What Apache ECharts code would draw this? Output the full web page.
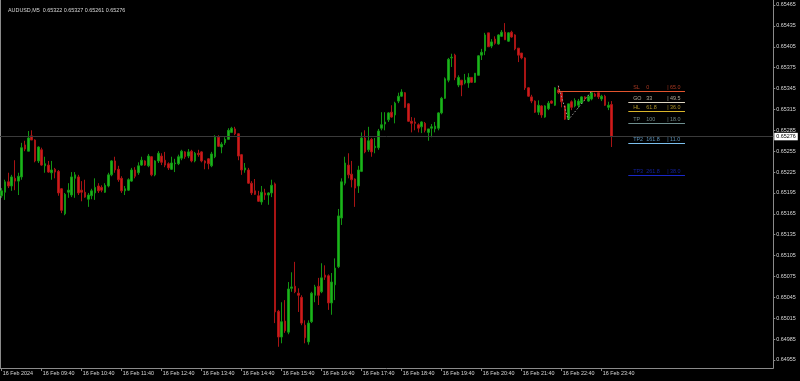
<!DOCTYPE html>
<html><head><meta charset="utf-8">
<script src="https://cdn.jsdelivr.net/npm/echarts@6/dist/echarts.min.js"></script>
<style>html,body{margin:0;padding:0;background:#000;}#c{width:800px;height:381px;}</style>
</head><body><div id="c"></div>
<script>
// ---- data (AUDUSD M5, 16 Feb 2024, first bar 08:40) ----
const symbol = 'AUDUSD', timeframe = 'M5';
const startTime = '08:40';
const opens = [0.65191,0.65196,0.65211,0.65205,0.65216,0.65212,0.65218,0.65264,0.65255,0.65277,
0.65271,0.65241,0.65257,0.65234,0.65235,0.65224,0.65229,0.65226,0.65201,0.65165,
0.65196,0.65192,0.65216,0.65218,0.65199,0.65196,0.65186,0.65191,0.65195,0.65205,
0.65203,0.65196,0.65205,0.65221,0.65241,0.65229,0.65216,0.65198,0.65199,0.65212,
0.65228,0.65224,0.65235,0.65241,0.65234,0.65247,0.65221,0.65241,0.65248,0.65242,
0.65237,0.65229,0.65237,0.65237,0.65245,0.65254,0.65248,0.65255,0.65241,0.65252,
0.65254,0.65241,0.65244,0.65234,0.65247,0.65275,0.65261,0.65267,0.65272,0.65282,
0.65287,0.65280,0.65250,0.65228,0.65228,0.65209,0.65198,0.65191,0.65182,0.65195,
0.65192,0.65195,0.65208,0.65025,0.64988,0.65011,0.64995,0.65058,0.65061,0.65051,
0.65045,0.65005,0.64981,0.65010,0.65048,0.65061,0.65053,0.65077,0.65076,0.65037,
0.65063,0.65089,0.65159,0.65209,0.65235,0.65222,0.65215,0.65205,0.65226,0.65274,
0.65257,0.65272,0.65260,0.65260,0.65288,0.65294,0.65300,0.65311,0.65307,0.65327,
0.65334,0.65339,0.65323,0.65298,0.65297,0.65293,0.65290,0.65295,0.65282,0.65288,
0.65287,0.65288,0.65310,0.65331,0.65357,0.65389,0.65393,0.65350,0.65357,0.65353,
0.65353,0.65361,0.65354,0.65364,0.65393,0.65399,0.65425,0.65406,0.65416,0.65409,
0.65420,0.65426,0.65413,0.65426,0.65422,0.65403,0.65396,0.65389,0.65346,0.65333,
0.65327,0.65311,0.65320,0.65304,0.65316,0.65327,0.65321,0.65343,0.65339,0.65320,
0.65301,0.65326,0.65320,0.65321,0.65324,0.65333,0.65327,0.65330,0.65337,0.65339,
0.65330,0.65334,0.65318,0.65322];
const closes = [0.65198,0.65211,0.65205,0.65218,0.65212,0.65219,0.65260,0.65258,0.65274,0.65271,
0.65241,0.65261,0.65235,0.65237,0.65225,0.65228,0.65225,0.65195,0.65170,0.65193,
0.65199,0.65218,0.65221,0.65195,0.65196,0.65189,0.65192,0.65198,0.65203,0.65198,
0.65199,0.65206,0.65221,0.65241,0.65228,0.65214,0.65198,0.65201,0.65214,0.65228,
0.65219,0.65234,0.65242,0.65235,0.65248,0.65221,0.65241,0.65252,0.65239,0.65235,
0.65231,0.65238,0.65238,0.65247,0.65255,0.65247,0.65254,0.65241,0.65252,0.65250,
0.65241,0.65238,0.65237,0.65251,0.65275,0.65262,0.65265,0.65272,0.65285,0.65288,
0.65280,0.65248,0.65228,0.65231,0.65209,0.65195,0.65193,0.65183,0.65196,0.65192,
0.65195,0.65206,0.65024,0.64988,0.65010,0.64997,0.65057,0.65060,0.65053,0.65048,
0.65008,0.64987,0.65008,0.65051,0.65060,0.65048,0.65073,0.65074,0.65037,0.65067,
0.65087,0.65162,0.65211,0.65238,0.65221,0.65214,0.65202,0.65228,0.65274,0.65254,
0.65270,0.65254,0.65262,0.65284,0.65293,0.65297,0.65310,0.65304,0.65324,0.65334,
0.65340,0.65318,0.65298,0.65295,0.65295,0.65288,0.65297,0.65285,0.65287,0.65290,
0.65291,0.65310,0.65331,0.65359,0.65387,0.65390,0.65361,0.65361,0.65350,0.65357,
0.65361,0.65354,0.65367,0.65392,0.65397,0.65422,0.65405,0.65412,0.65410,0.65422,
0.65426,0.65415,0.65425,0.65419,0.65402,0.65393,0.65389,0.65346,0.65334,0.65327,
0.65311,0.65321,0.65307,0.65320,0.65324,0.65324,0.65346,0.65339,0.65326,0.65301,
0.65323,0.65318,0.65328,0.65327,0.65333,0.65330,0.65334,0.65339,0.65334,0.65333,
0.65334,0.65321,0.65321,0.65276];
const highs = [0.65202,0.65214,0.65224,0.65221,0.65242,0.65224,0.65267,0.65270,0.65284,0.65285,
0.65272,0.65262,0.65260,0.65247,0.65241,0.65241,0.65231,0.65228,0.65202,0.65195,
0.65209,0.65225,0.65225,0.65221,0.65212,0.65214,0.65195,0.65201,0.65216,0.65209,
0.65206,0.65209,0.65224,0.65242,0.65247,0.65234,0.65219,0.65205,0.65216,0.65231,
0.65232,0.65239,0.65247,0.65242,0.65251,0.65248,0.65242,0.65255,0.65252,0.65254,
0.65239,0.65247,0.65244,0.65250,0.65257,0.65255,0.65258,0.65257,0.65254,0.65257,
0.65255,0.65242,0.65245,0.65254,0.65278,0.65278,0.65268,0.65275,0.65288,0.65290,
0.65290,0.65281,0.65251,0.65238,0.65231,0.65212,0.65215,0.65198,0.65205,0.65201,
0.65196,0.65214,0.65210,0.65027,0.65038,0.65041,0.65067,0.65081,0.65096,0.65058,
0.65048,0.65012,0.65012,0.65053,0.65063,0.65073,0.65094,0.65091,0.65078,0.65080,
0.65101,0.65172,0.65216,0.65247,0.65252,0.65241,0.65216,0.65234,0.65282,0.65285,
0.65290,0.65274,0.65274,0.65287,0.65311,0.65311,0.65311,0.65321,0.65326,0.65339,
0.65344,0.65340,0.65324,0.65304,0.65303,0.65295,0.65298,0.65297,0.65287,0.65294,
0.65297,0.65311,0.65333,0.65361,0.65389,0.65395,0.65395,0.65364,0.65357,0.65366,
0.65367,0.65361,0.65367,0.65393,0.65402,0.65425,0.65425,0.65416,0.65420,0.65423,
0.65429,0.65439,0.65426,0.65428,0.65423,0.65403,0.65396,0.65390,0.65347,0.65336,
0.65328,0.65328,0.65321,0.65321,0.65327,0.65328,0.65347,0.65349,0.65340,0.65321,
0.65323,0.65328,0.65331,0.65330,0.65334,0.65334,0.65336,0.65341,0.65339,0.65339,
0.65336,0.65336,0.65326,0.65327];
const lows = [0.65188,0.65185,0.65202,0.65198,0.65199,0.65192,0.65214,0.65255,0.65255,0.65271,
0.65239,0.65238,0.65234,0.65224,0.65224,0.65214,0.65216,0.65191,0.65166,0.65163,
0.65188,0.65189,0.65188,0.65192,0.65183,0.65188,0.65175,0.65186,0.65185,0.65195,
0.65196,0.65195,0.65203,0.65219,0.65224,0.65211,0.65195,0.65192,0.65198,0.65211,
0.65216,0.65221,0.65234,0.65234,0.65232,0.65219,0.65219,0.65238,0.65235,0.65232,
0.65228,0.65228,0.65225,0.65235,0.65242,0.65244,0.65245,0.65239,0.65239,0.65247,
0.65239,0.65229,0.65229,0.65232,0.65245,0.65261,0.65252,0.65264,0.65271,0.65281,
0.65278,0.65242,0.65221,0.65224,0.65208,0.65192,0.65192,0.65182,0.65178,0.65185,
0.65178,0.65189,0.65008,0.64974,0.64979,0.64994,0.64992,0.65053,0.65051,0.65024,
0.65005,0.64979,0.64977,0.65008,0.65038,0.65034,0.65051,0.65070,0.65027,0.65020,
0.65041,0.65087,0.65149,0.65206,0.65216,0.65203,0.65175,0.65195,0.65225,0.65252,
0.65254,0.65247,0.65252,0.65257,0.65285,0.65285,0.65297,0.65303,0.65295,0.65324,
0.65333,0.65317,0.65297,0.65282,0.65285,0.65282,0.65281,0.65282,0.65270,0.65275,
0.65282,0.65285,0.65308,0.65330,0.65354,0.65376,0.65357,0.65347,0.65334,0.65351,
0.65346,0.65353,0.65353,0.65364,0.65386,0.65393,0.65405,0.65403,0.65408,0.65408,
0.65419,0.65415,0.65412,0.65418,0.65400,0.65383,0.65387,0.65343,0.65333,0.65324,
0.65310,0.65307,0.65303,0.65303,0.65314,0.65323,0.65320,0.65337,0.65318,0.65300,
0.65300,0.65314,0.65318,0.65317,0.65323,0.65327,0.65326,0.65328,0.65333,0.65330,
0.65327,0.65320,0.65314,0.65261];
const xTickLabels = ['16 Feb 2024','16 Feb 09:40','16 Feb 10:40','16 Feb 11:40','16 Feb 12:40','16 Feb 13:40',
'16 Feb 14:40','16 Feb 15:40','16 Feb 16:40','16 Feb 17:40','16 Feb 18:40','16 Feb 19:40','16 Feb 20:40',
'16 Feb 21:40','16 Feb 22:40','16 Feb 23:40'];
const yTicks = [0.64955,0.64985,0.65015,0.65045,0.65075,0.65105,0.65135,0.65165,0.65195,0.65225,
0.65255,0.65285,0.65315,0.65345,0.65375,0.65405,0.65435,0.65465];
const fibNames = ['SL','GO','HL','TP','TP2','TP3'];
const fibRatios = ['0','33','61.8','100','161.8','261.8'];
const fibPips = ['65.0','49.5','36.0','18.0','11.0','38.0'];
const fibPrices = [0.65341,0.65326,0.65313,0.65295,0.65267,0.65221];
const fibColors = ['#e2542e','#ddd5c2','#d9b52a','#6f8f8f','#7cc0ee','#1a28c8'];
const fibTextColors = ['#d2462a','#d8d0bc','#d2b030','#8aa6a6','#74b8e8','#1828c0'];
const zigIdx = [167,170,177];
const zigVal = [0.65349,0.65300,0.65341];

// ---- build ----
const SLOTS = 232;
const cats = [];
let [hh, mm] = startTime.split(':').map(Number);
for (let i = 0; i < SLOTS; i++) {
  const t = hh*60 + mm + 5*i;
  const h = Math.floor(t/60) % 24, m = t % 60;
  cats.push((Math.floor(t/60) >= 24 ? '17 Feb ' : '16 Feb ') + String(h).padStart(2,'0') + ':' + String(m).padStart(2,'0'));
}
const candles = opens.map((o, i) => [o, closes[i], lows[i], highs[i]]);
const last = candles.length - 1;
const titleText = symbol + ',' + timeframe + '  ' + [opens[last], highs[last], lows[last], closes[last]].map(v => v.toFixed(5)).join(' ');
const FONT = 'Liberation Sans';
const FS = 5.4;
const AX = '#8a8a8a';
const TXT = '#d8d8d8';
const tickFn = (idx) => idx % 12 === 0 && idx <= 180;
const yMin = 0.649435, yMax = 0.654722;

const fibLines = fibPrices.map((p, k) => [
  { coord: [k === 0 ? 167 : 188, p], lineStyle: { color: fibColors[k], width: 1, type: 'solid' }, label: { show: false } },
  { coord: [205, p] }]);

const chart = echarts.init(document.getElementById('c'), null, { renderer: 'canvas' });
chart.setOption({
  animation: false,
  backgroundColor: '#000000',
  title: { text: titleText, left: 3, top: 3, textStyle: { color: TXT, fontSize: FS, fontWeight: 'normal', fontFamily: FONT } },
  grid: { left: 0, right: 26.7, top: 0, bottom: 13, containLabel: false, outerBoundsMode: 'none' },
  xAxis: {
    type: 'category', data: cats, boundaryGap: true,
    axisLine: { show: true, lineStyle: { color: AX, width: 1 } },
    axisTick: { show: true, alignWithLabel: true, interval: tickFn, length: 3, lineStyle: { color: AX } },
    axisLabel: { interval: tickFn, formatter: (v, idx) => xTickLabels[idx / 12], align: 'left', margin: 3,
      padding: [0, 0, 0, 1], color: TXT, fontSize: FS, fontFamily: FONT },
    splitLine: { show: false }
  },
  yAxis: [{
    type: 'value', position: 'right', min: yMin, max: yMax, scale: true,
    axisLine: { show: true, lineStyle: { color: AX, width: 1 } },
    axisTick: { show: true, length: 2, customValues: yTicks, lineStyle: { color: AX } },
    axisLabel: { customValues: yTicks, formatter: v => v.toFixed(5), margin: 3, color: TXT, fontSize: FS, fontFamily: FONT },
    splitLine: { show: false }
  }, {
    type: 'value', position: 'left', min: yMin, max: yMax,
    axisLine: { show: true, lineStyle: { color: AX, width: 1 } },
    axisTick: { show: false }, axisLabel: { show: false }, splitLine: { show: false }
  }],
  series: [{
    type: 'candlestick', data: candles, barWidth: 2, z: 2,
    itemStyle: { color: '#1cb41c', color0: '#cf1b1b', borderColor: '#129412', borderColor0: '#a81414', borderWidth: 1 },
    markLine: { silent: true, symbol: 'none', animation: false, precision: 5, data: fibLines }
  }, {
    type: 'line', data: zigIdx.map((x, k) => [x, zigVal[k]]), symbol: 'none', z: 3,
    lineStyle: { color: '#9a9a9a', width: 1, type: [1.5, 2] },
    markLine: { silent: true, symbol: 'none', animation: false, precision: 5,
      data: [{ yAxis: closes[last] }],
      lineStyle: { color: '#3a3a3a', width: 1, type: 'solid' },
      label: { show: true, position: 'end', distance: 1, formatter: closes[last].toFixed(5),
        backgroundColor: '#ffffff', color: '#000000', padding: [1.5, 2, 1, 2], fontSize: FS, fontFamily: FONT } }
  }, {
    type: 'scatter', symbolSize: 0, z: 4,
    data: fibPrices.map((p, k) => ({ value: [189, p],
      label: { show: true, position: 'inside', align: 'left', verticalAlign: 'middle', offset: [1.5, -3.6],
        color: fibTextColors[k], fontSize: FS, fontFamily: FONT,
        formatter: '{n|' + fibNames[k] + '}{v|' + fibRatios[k] + '}{b|| ' + fibPips[k] + '}',
        rich: { n: { width: 13, fontSize: FS, fontFamily: FONT, color: fibTextColors[k] },
                v: { width: 21, fontSize: FS, fontFamily: FONT, color: fibTextColors[k] },
                b: { fontSize: FS, fontFamily: FONT, color: fibTextColors[k] } } } }))
  }]
});
</script>
</body></html>
